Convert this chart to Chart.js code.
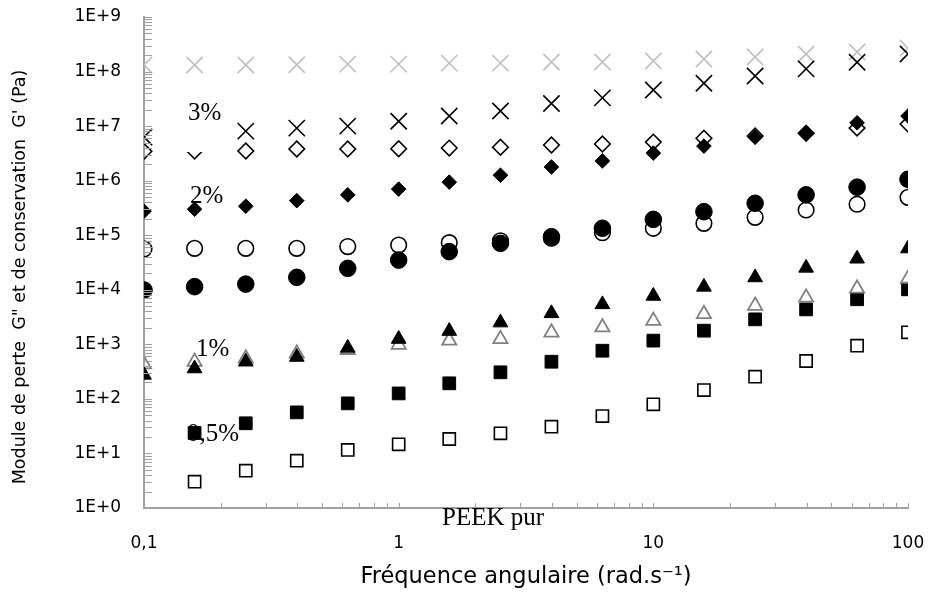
<!DOCTYPE html>
<html>
<head>
<meta charset="utf-8">
<script src="https://cdn.jsdelivr.net/npm/chart.js@4.4.0/dist/chart.umd.min.js"></script>
<style>
  body { margin: 0; background: #fff; }
  #wrap { width: 928px; height: 593px; }
</style>
</head>
<body>
<div id="wrap"><canvas id="myChart" width="928" height="593"></canvas></div>
<script>
// angular frequency (rad/s), 5 points per decade
const freq = [0.1, 0.158, 0.251, 0.398, 0.631, 1, 1.58, 2.51, 3.98, 6.31, 10, 15.8, 25.1, 39.8, 63.1, 100];

// 3% : grey X = G', black X = G''
const g1_3 = [1.32e8, 1.32e8, 1.32e8, 1.33e8, 1.37e8, 1.37e8, 1.43e8, 1.43e8, 1.5e8, 1.5e8, 1.56e8, 1.7e8, 1.85e8, 2.1e8, 2.28e8, 2.7e8];
const g2_3 = [6.3e6, 7.0e6, 8.1e6, 9.2e6, 1.0e7, 1.23e7, 1.53e7, 1.89e7, 2.6e7, 3.3e7, 4.6e7, 6.1e7, 8.3e7, 1.12e8, 1.48e8, 2.1e8];
// 2% : open / filled diamonds
const g1_2 = [3.45e6, 3.5e6, 3.5e6, 3.8e6, 3.8e6, 3.85e6, 3.96e6, 4.1e6, 4.5e6, 4.7e6, 5.1e6, 6.0e6, 6.6e6, 7.4e6, 9.2e6, 1.09e7];
const g2_2 = [2.76e5, 3.0e5, 3.4e5, 4.3e5, 5.5e5, 7.0e5, 9.4e5, 1.26e6, 1.78e6, 2.3e6, 3.2e6, 4.3e6, 6.3e6, 7.6e6, 1.15e7, 1.53e7];
// 1% : open / filled circles
const g1_1 = [5.6e4, 5.75e4, 5.75e4, 5.75e4, 6.2e4, 6.6e4, 7.3e4, 7.9e4, 8.8e4, 1.11e5, 1.34e5, 1.65e5, 2.13e5, 2.9e5, 3.7e5, 4.95e5];
const g2_1 = [9.9e3, 1.14e4, 1.27e4, 1.69e4, 2.47e4, 3.5e4, 5.0e4, 7.1e4, 9.4e4, 1.34e5, 1.95e5, 2.7e5, 3.85e5, 5.5e5, 7.6e5, 1.06e6];
// 0,5% : open grey / filled triangles
const g1_05 = [430, 480, 550, 680, 790, 980, 1170, 1250, 1650, 2050, 2700, 3600, 5100, 7200, 10500, 16000];
const g2_05 = [275, 360, 480, 585, 860, 1250, 1750, 2500, 3700, 5400, 7700, 11300, 16800, 25200, 37000, 57000];
// PEEK pur : open / filled squares
const g1_peek = [null, 3.03, 4.83, 7.36, 11.6, 14.7, 18.4, 23.4, 30.9, 48.5, 79.5, 145, 255, 495, 944, 1660];
const g2_peek = [null, 23.7, 35.7, 56.6, 82.8, 126, 193, 307, 480, 764, 1170, 1780, 2870, 4370, 6700, 10200];

const xTicks = [0.1, 1, 10, 100];
const xTickLabels = ['0,1', '1', '10', '100'];
const yTicks = [1, 1e1, 1e2, 1e3, 1e4, 1e5, 1e6, 1e7, 1e8, 1e9];
const yTickLabels = ['1E+0', '1E+1', '1E+2', '1E+3', '1E+4', '1E+5', '1E+6', '1E+7', '1E+8', '1E+9'];
const yTitle = 'Module de perte  G" et de conservation  G\' (Pa)';

const axisColor = '#a0a0a0';

function toPoints(ys) {
    const pts = [];
    for (let i = 0; i < freq.length; i++) {
        if (ys[i] !== null) pts.push({x: freq[i], y: ys[i]});
    }
    return pts;
}

function serie(label, ys, style, r, fill, stroke, bw) {
    return {
        label: label,
        data: toPoints(ys),
        pointStyle: style,
        pointRadius: r,
        pointHoverRadius: r,
        backgroundColor: fill,
        borderColor: stroke,
        pointBorderWidth: bw,
        showLine: false
    };
}

function noPad(s) {
    s.paddingTop = 0;
    s.paddingBottom = 0;
    s.paddingLeft = 0;
    s.paddingRight = 0;
}

// inward tick marks like the excel axes
const axisTicks = {
    id: 'axisTicks',
    afterDraw(chart) {
        const c = chart.ctx;
        const xs = chart.scales.x, ys = chart.scales.y;
        const a = chart.chartArea;
        c.save();
        c.strokeStyle = axisColor;
        c.lineWidth = 1;
        c.beginPath();
        for (let d = 0; d < 9; d++) {
            for (let m = 1; m <= 9; m++) {
                const py = Math.round(ys.getPixelForValue(m * Math.pow(10, d))) + 0.5;
                c.moveTo(a.left, py);
                c.lineTo(a.left + 8, py);
            }
        }
        c.moveTo(a.left, Math.round(a.top) + 0.5);
        c.lineTo(a.left + 8, Math.round(a.top) + 0.5);
        for (let d = -1; d < 2; d++) {
            for (let m = 1; m <= 9; m++) {
                const px = Math.round(xs.getPixelForValue(m * Math.pow(10, d))) + 0.5;
                c.moveTo(px, a.bottom);
                c.lineTo(px, a.bottom - 5);
            }
        }
        const pr = Math.round(a.right) + 0.5;
        c.moveTo(pr, a.bottom);
        c.lineTo(pr, a.bottom - 5);
        c.stroke();

        // y axis title, sits a bit below the axis middle in the original
        c.translate(20, 277);
        c.rotate(-Math.PI / 2);
        c.font = '17.5px "DejaVu Sans"';
        c.textAlign = 'center';
        c.textBaseline = 'middle';
        c.fillStyle = '#000';
        c.fillText(yTitle, 0, 0);
        c.restore();
    }
};

function drawText(c, txt, x, y, bg) {
    c.font = '25px "Liberation Serif"';
    c.textBaseline = 'alphabetic';
    c.textAlign = 'left';
    if (bg) {
        c.fillStyle = '#fff';
        c.fillRect(bg[0], bg[1], bg[2], bg[3]);
    }
    c.fillStyle = '#000';
    c.fillText(txt, x, y);
}

const textLabels = {
    id: 'textLabels',
    beforeDatasetsDraw(chart) {
        const c = chart.ctx;
        c.save();
        drawText(c, '1%', 196, 356);
        drawText(c, '0,5%', 187, 441);
        c.restore();
    },
    afterDraw(chart) {
        const c = chart.ctx;
        c.save();
        drawText(c, '3%', 188, 120, [183, 96, 44, 56]);
        drawText(c, '2%', 190, 203);
        drawText(c, 'PEEK pur', 442, 525);
        c.restore();
    }
};

const ctx = document.getElementById('myChart').getContext('2d');
const myChart = new Chart(ctx, {
    type: 'scatter',
    data: {
        datasets: [
            serie("3% G''", g2_3, 'crossRot', 11.5, '#000', '#000', 1.6),
            serie("3% G'", g1_3, 'crossRot', 11.5, '#bfbfbf', '#bfbfbf', 1.6),
            serie("2% G''", g2_2, 'rectRot', 7.3, '#000', '#000', 1),
            serie("2% G'", g1_2, 'rectRot', 7.8, 'rgba(0,0,0,0)', '#000', 1.6),
            serie("1% G''", g2_1, 'circle', 8.3, '#000', '#000', 1),
            serie("1% G'", g1_1, 'circle', 7.8, 'rgba(0,0,0,0)', '#000', 1.6),
            serie("0,5% G''", g2_05, 'triangle', 8.5, '#000', '#000', 1),
            serie("0,5% G'", g1_05, 'triangle', 8.2, 'rgba(0,0,0,0)', '#808080', 1.8),
            serie("PEEK pur G''", g2_peek, 'rect', 9, '#000', '#000', 1),
            serie("PEEK pur G'", g1_peek, 'rect', 8.6, 'rgba(0,0,0,0)', '#000', 1.6)
        ]
    },
    options: {
        responsive: false,
        animation: false,
        layout: { padding: { top: 17, right: 20, left: 0, bottom: 0 } },
        plugins: {
            legend: { display: false },
            tooltip: { enabled: false }
        },
        scales: {
            x: {
                type: 'logarithmic',
                position: 'bottom',
                min: 0.1,
                max: 100,
                afterBuildTicks: function(s) { s.ticks = xTicks.map(v => ({value: v})); },
                afterFit: function(s) { s.height = 85; noPad(s); },
                grid: { display: false, drawTicks: false },
                border: { display: true, color: axisColor, width: 2 },
                ticks: {
                    padding: 25,
                    autoSkip: false,
                    maxRotation: 0,
                    color: '#000',
                    font: { family: 'DejaVu Sans', size: 17 },
                    callback: function(value, index) { return xTickLabels[index]; }
                },
                title: {
                    display: true,
                    text: 'Fréquence angulaire (rad.s⁻¹)',
                    color: '#000',
                    font: { family: 'DejaVu Sans', size: 22.5 },
                    padding: { top: 0, bottom: 2 }
                }
            },
            y: {
                type: 'logarithmic',
                min: 1,
                max: 1e9,
                afterBuildTicks: function(s) { s.ticks = yTicks.map(v => ({value: v})); },
                afterFit: function(s) { s.width = 144; noPad(s); },
                grid: { display: false, drawTicks: false },
                border: { display: true, color: axisColor, width: 2 },
                ticks: {
                    padding: 23,
                    autoSkip: false,
                    color: '#000',
                    font: { family: 'DejaVu Sans', size: 17 },
                    callback: function(value, index) { return yTickLabels[index]; }
                },
                title: { display: false }
            }
        }
    },
    plugins: [axisTicks, textLabels]
});
</script>
</body>
</html>
